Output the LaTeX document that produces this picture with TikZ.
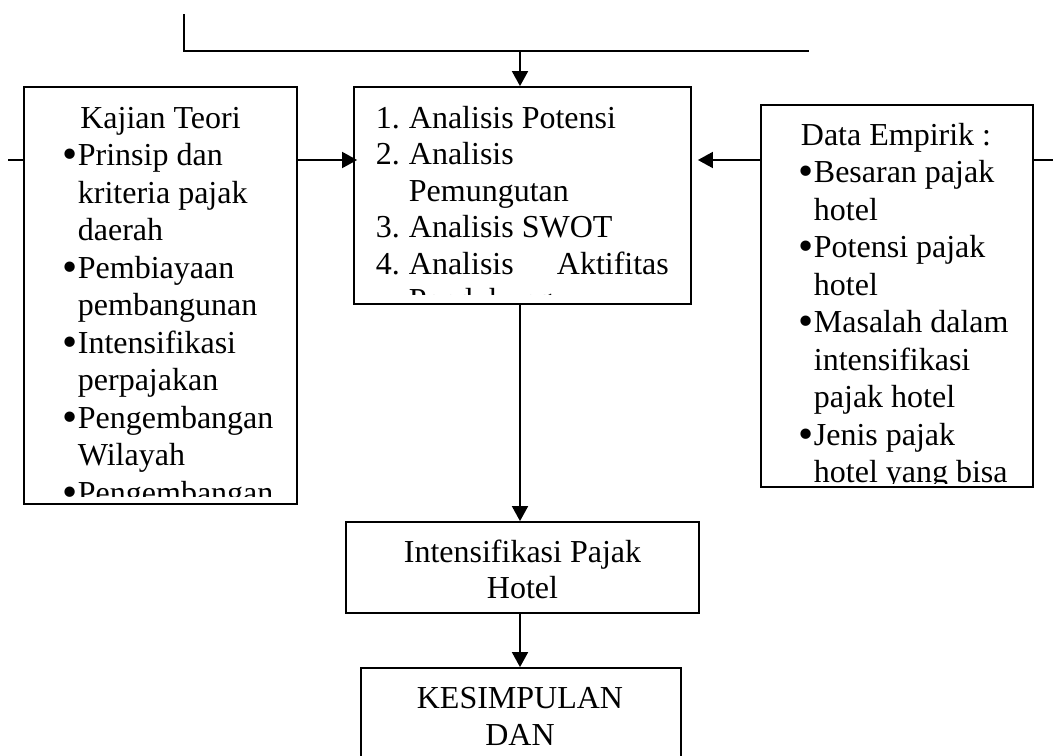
\documentclass[tikz,border=0pt]{standalone}
\usepackage{fontspec}
\setmainfont{Liberation Serif}
\usetikzlibrary{arrows.meta}
\tikzset{>={Triangle[length=7.5pt,width=8pt]}}
\tikzset{box/.style={draw, rectangle, inner sep=0pt, line width=0.9pt}}
\tikzset{txt/.style={inner sep=0pt, font=\fontsize{16}{18.75}\selectfont, align=flush left}}
\tikzset{ttl/.style={inner sep=0pt, font=\fontsize{16}{18.25}\selectfont, align=center}}
\newcommand{\bul}{\makebox[7.5pt][l]{\raisebox{-0.1em}{\scalebox{1.35}{•}}}}
\newcommand{\ind}{\hspace*{7.5pt}}
\newcommand{\num}[1]{\makebox[16.5pt][l]{#1}}

\begin{document}
\begin{tikzpicture}[x=0.5pt,y=-0.5pt,line width=0.9pt]
\useasboundingbox (0,0) rectangle (1053,755);
\clip (0,0) rectangle (1053,755);

\node[box, minimum width=136.5pt, minimum height=208.5pt] (teori) at (160.5,295.5) {};
\node[box, minimum width=168.5pt, minimum height=108.5pt] (analisis) at (522.5,195.5) {};
\node[box, minimum width=136pt, minimum height=191pt] (empirik) at (897,296) {};
\node[box, minimum width=176.5pt, minimum height=45.5pt] (hasil) at (522.5,567.5) {};
\node[box, minimum width=160pt, minimum height=86pt] (simpul) at (521,754) {};

\begin{scope}
\clip (teori.north west) rectangle ([yshift=4pt]teori.south east);
\node[ttl, anchor=base] (teoriT) at (160.5,128) {Kajian Teori};
\node[txt, anchor=base west, text width=115pt] (teoriL) at (62,165.5)
 {\bul Prinsip dan\\ \ind kriteria pajak\\ \ind daerah\\
  \bul Pembiayaan\\ \ind pembangunan\\
  \bul Intensifikasi\\ \ind perpajakan\\
  \bul Pengembangan\\ \ind Wilayah\\
  \bul Pengembangan};
\end{scope}

\begin{scope}
\clip (analisis.north west) rectangle ([yshift=5pt]analisis.south east);
\node[txt, anchor=base west, text width=146.5pt, font=\fontsize{16}{18.25}\selectfont] (analisisL) at (375,128)
 {\num{1.}Analisis Potensi\\ \num{2.}Analisis\\ \hspace*{16.5pt}Pemungutan\\
  \num{3.}Analisis SWOT\\ \num{4.}Analisis\hfill Aktifitas\\ \hspace*{16.5pt}Pendukung};
\end{scope}

\begin{scope}
\clip (empirik.north west) rectangle ([yshift=2pt]empirik.south east);
\node[ttl, anchor=base] (empirikT) at (896,145) {Data Empirik :};
\node[txt, anchor=base west, text width=115pt] (empirikL) at (798,182.5)
 {\bul Besaran pajak\\ \ind hotel\\
  \bul Potensi pajak\\ \ind hotel\\
  \bul Masalah dalam\\ \ind intensifikasi\\ \ind pajak hotel\\
  \bul Jenis pajak\\ \ind hotel yang bisa};
\end{scope}

\node[ttl, anchor=base, font=\fontsize{16}{18}\selectfont] (hasilT) at (522.5,598) {Intensifikasi Pajak\\ Hotel};
\node[ttl, anchor=base, font=\fontsize{16}{18.5}\selectfont] (simpulT) at (520,745) {KESIMPULAN\\ DAN};

\coordinate (topl) at (184,14);
\coordinate (topc) at (184,51);
\coordinate (topr) at (809,51);
\coordinate (split) at (520,51);
\coordinate (lvl) at (0,160);
\coordinate (stubl) at (8,160);
\coordinate (stubr) at (1053,160);

\draw (topl) -- (topc) -- (topr);
\draw[->] (split) -- (split |- analisis.north);
\draw (stubl) -- (teori.west |- lvl);
\draw[->, shorten >=-2pt] (teori.east |- lvl) -- (analisis.west |- lvl);
\draw[->, shorten >=3pt] (empirik.west |- lvl) -- (analisis.east |- lvl);
\draw (empirik.east |- lvl) -- (stubr);
\draw[->] (split |- analisis.south) -- (split |- hasil.north);
\draw[->] (split |- hasil.south) -- (split |- simpul.north);

\end{tikzpicture}
\end{document}
